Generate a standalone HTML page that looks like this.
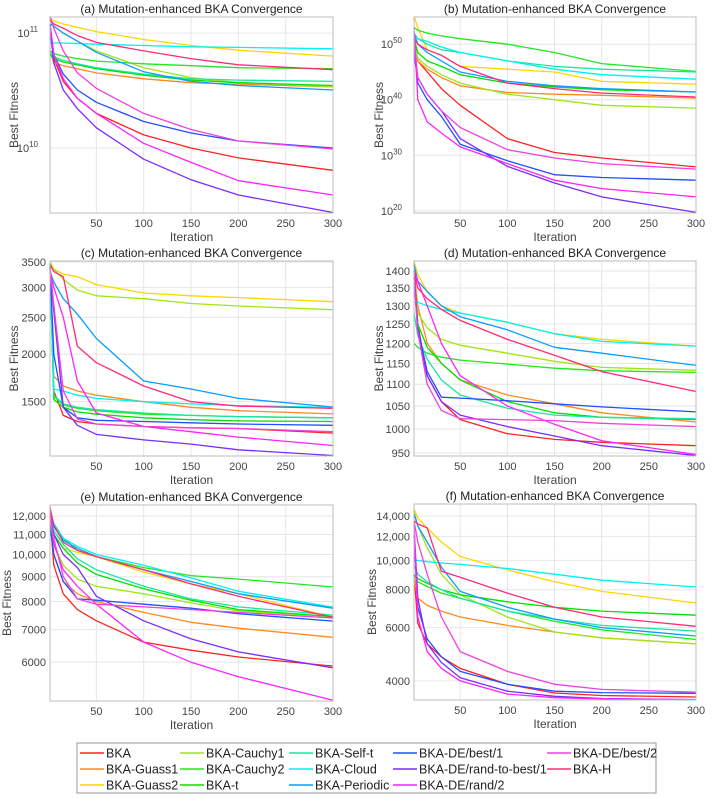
<!DOCTYPE html>
<html><head><meta charset="utf-8">
<style>
html,body{margin:0;padding:0;background:#fff;}
svg{display:block;font-family:"Liberation Sans",Arial,sans-serif;}
</style></head>
<body>
<svg id="fig" width="714" height="799" viewBox="0 0 714 799" xmlns="http://www.w3.org/2000/svg"></svg>
<script>
const iters = [1,5,15,30,50,100,150,200,300];
const names = ["BKA","BKA-Guass1","BKA-Guass2","BKA-Cauchy1","BKA-Cauchy2","BKA-t","BKA-Self-t","BKA-Cloud","BKA-Periodic","BKA-DE/best/1","BKA-DE/rand-to-best/1","BKA-DE/rand/2","BKA-DE/best/2","BKA-H"];
const colors = ["#ff2222","#ff8a1e","#ffd400","#9ee61a","#22e622","#00e000","#18e6a0","#00f0f0","#0a9cff","#2050ff","#7a2cff","#ff22ff","#f040e0","#ff2a7a"];

// panel (a)
const aBKA=[1.2e11,6e10,3.8e10,2.7e10,2.0e10,1.3e10,1.0e10,8.2e9,6.4e9];
const aGuass1=[7e10,5.5e10,5.2e10,4.9e10,4.5e10,4.0e10,3.7e10,3.6e10,3.4e10];
const aGuass2=[1.35e11,1.28e11,1.2e11,1.12e11,1.03e11,8.8e10,7.8e10,7.1e10,6.3e10];
const aCauchy1=[1.3e11,1.15e11,1.0e11,8.5e10,7.0e10,5.0e10,4.1e10,3.7e10,3.4e10];
const aCauchy2=[7e10,6.6e10,6.3e10,6.0e10,5.7e10,5.4e10,5.2e10,5.0e10,4.9e10];
const aT=[6.5e10,6.0e10,5.6e10,5.3e10,4.9e10,4.3e10,3.9e10,3.7e10,3.5e10];
const aSelfT=[6.8e10,6.2e10,5.8e10,5.4e10,5.0e10,4.4e10,4.0e10,3.9e10,3.8e10];
const aCloud=[8.2e10,8.2e10,8.2e10,8.1e10,8.0e10,7.8e10,7.6e10,7.5e10,7.3e10];
const aPeriodic=[1.2e11,1.15e11,1.0e11,8.5e10,6.8e10,4.6e10,3.8e10,3.5e10,3.2e10];
const aBest1=[1.2e11,6.5e10,4.4e10,3.2e10,2.5e10,1.7e10,1.35e10,1.15e10,1.0e10];
const aRtb1=[1.1e11,5.5e10,3.2e10,2.2e10,1.5e10,8e9,5.3e9,3.9e9,2.75e9];
const aRand2=[1.15e11,6.5e10,4.0e10,2.7e10,2.0e10,1.1e10,7.5e9,5.2e9,3.9e9];
const aBest2=[1.4e11,1.1e11,7e10,4.5e10,3.3e10,2.0e10,1.45e10,1.15e10,9.8e9];
const aH=[1.3e11,1.2e11,1.1e11,9.5e10,8.3e10,7.0e10,6.0e10,5.3e10,4.8e10];

// panel (b) - values as powers of ten (exponents)
const bBKA=[51,47,45,42,39,33,30.5,29.5,27.9];
const bGuass1=[50,47,45.5,44,42.5,41.3,41,40.8,40.3];
const bGuass2=[55,53,49,48,46,45.5,45,43.3,42.8];
const bCauchy1=[50,47.5,46,44.5,43,41,40,39,38.5];
const bCauchy2=[53,52.5,52,51.5,51,50,48.5,46.5,45.1];
const bT=[51,48.5,47,46,44.5,43,42.3,41.8,41.4];
const bSelfT=[52,51,50,49,48.5,47,46,45.5,45];
const bCloud=[52,51,50.5,49.5,48.5,47,45.5,44.5,43.7];
const bPeriodic=[52,50,48.5,47,45,43.3,42.5,42,41.4];
const bBest1=[49,43,40,37,32,29,26.5,26,25.5];
const bRtb1=[48,44,41,38,33,28,25,22.5,19.7];
const bRand2=[53,40,36,34,31.5,28.5,25.5,24,22.5];
const bBest2=[51,44,41,38,35,31,29.5,28.5,27.5];
const bH=[51,50,49,48,46,43,42,41.2,40.5];

// panel (c)
const cBKA=[3400,1600,1380,1330,1310,1290,1280,1275,1240];
const cGuass1=[3400,1750,1650,1600,1560,1500,1450,1420,1393];
const cGuass2=[3500,3350,3250,3200,3050,2900,2850,2820,2750];
const cCauchy1=[3500,3350,3150,2950,2850,2800,2720,2680,2620];
const cCauchy2=[3450,1550,1470,1440,1420,1390,1380,1370,1360];
const cT=[3450,1520,1450,1410,1390,1360,1345,1335,1330];
const cSelfT=[3450,1560,1480,1450,1430,1400,1380,1370,1360];
const cCloud=[3450,1620,1600,1560,1530,1500,1480,1465,1450];
const cPeriodic=[3300,3100,2800,2550,2200,1700,1620,1530,1452];
const cBest1=[3400,2000,1450,1360,1340,1330,1320,1310,1300];
const cRtb1=[3400,2600,1450,1300,1230,1190,1160,1120,1082];
const cRand2=[3300,3000,2500,1700,1400,1290,1250,1210,1150];
const cBest2=[3400,2700,1600,1350,1310,1290,1280,1275,1250];
const cH=[3450,3300,3200,2100,1900,1650,1500,1460,1440];

// panel (d)
const dBKA=[1420,1250,1120,1060,1020,990,978,972,965];
const dGuass1=[1400,1300,1200,1150,1110,1075,1055,1035,1015];
const dGuass2=[1430,1390,1340,1300,1280,1255,1225,1210,1193];
const dCauchy1=[1350,1280,1240,1210,1195,1175,1155,1140,1133];
const dCauchy2=[1200,1190,1175,1165,1158,1148,1138,1132,1128];
const dT=[1380,1250,1190,1150,1110,1060,1035,1025,1020];
const dSelfT=[1280,1220,1160,1110,1075,1045,1030,1025,1022];
const dCloud=[1310,1310,1300,1290,1280,1255,1225,1205,1193];
const dPeriodic=[1420,1370,1340,1300,1270,1235,1190,1175,1145];
const dBest1=[1400,1240,1130,1070,1068,1062,1055,1048,1037];
const dRtb1=[1380,1230,1120,1060,1030,1005,985,965,945];
const dRand2=[1400,1370,1300,1200,1120,1050,1010,975,947];
const dBest2=[1380,1230,1100,1040,1022,1020,1018,1012,1005];
const dH=[1400,1350,1320,1290,1260,1210,1170,1130,1083];

// panel (e)
const eBKA=[12000,9500,8300,7700,7300,6600,6350,6150,5890];
const eGuass1=[12000,10000,8800,8300,8000,7600,7250,7050,6750];
const eGuass2=[12300,11000,10300,10100,9900,9200,8700,8300,7430];
const eCauchy1=[12000,10500,9500,8900,8600,8300,7950,7650,7450];
const eCauchy2=[12300,11500,10800,10200,9900,9400,9050,8900,8570];
const eT=[12000,11000,10300,9600,9100,8500,8050,7700,7450];
const eSelfT=[12000,11200,10500,9800,9300,8600,8100,7800,7500];
const eCloud=[12300,11600,10800,10400,10000,9500,8950,8400,7790];
const ePeriodic=[12300,11400,10700,10300,9900,9300,8800,8300,7750];
const eBest1=[11500,10000,8800,8100,8050,7900,7750,7550,7290];
const eRtb1=[12000,11000,10000,9400,8200,7300,6700,6300,5840];
const eRand2=[12500,10500,9300,8600,7900,6600,6000,5600,5010];
const eBest2=[12000,10800,9000,8100,7900,7800,7700,7600,7400];
const eH=[12500,11500,10600,10200,9900,9300,8700,8200,7420];

// panel (f)
const fBKA=[9000,6200,5300,4800,4400,3900,3650,3580,3540];
const fGuass1=[8800,7500,7100,6800,6500,6100,5800,5550,5300];
const fGuass2=[14800,13800,12800,11500,10300,9300,8500,7900,7230];
const fCauchy1=[14500,13000,11000,9000,7700,6500,5800,5550,5300];
const fCauchy2=[9000,8500,8200,7800,7500,6800,6300,5900,5480];
const fT=[9000,8700,8400,8000,7700,7300,7000,6800,6590];
const fSelfT=[9600,9000,8500,8000,7500,6800,6400,6100,5840];
const fCloud=[10000,10000,9900,9800,9700,9400,9000,8600,8170];
const fPeriodic=[14300,13000,11500,9500,7900,7000,6400,6000,5630];
const fBest1=[12000,7000,5500,4800,4300,3900,3700,3660,3640];
const fRtb1=[13000,7500,5300,4600,4100,3700,3560,3500,3470];
const fRand2=[13500,6500,5000,4400,4000,3620,3520,3490,3470];
const fBest2=[13500,11500,9000,6500,5000,4300,3900,3750,3670];
const fH=[13500,13200,12800,9200,8800,7800,7000,6500,6060];

const xTicks=[50,100,150,200,250,300];
const aTicks=[1e10,1e11];
const bTicks=[20,30,40,50];
const cTicks=[1500,2000,2500,3000,3500];
const dTicks=[950,1000,1050,1100,1150,1200,1250,1300,1350,1400];
const eTicks=[6000,7000,8000,9000,10000,11000,12000];
const fTicks=[4000,6000,8000,10000,12000,14000];

const NS="http://www.w3.org/2000/svg";
const svg=document.getElementById('fig');
function mk(tag,attrs,parent){const e=document.createElementNS(NS,tag);for(const k in attrs)e.setAttribute(k,attrs[k]);(parent||svg).appendChild(e);return e;}
function fmt(v){return v>=10000?v.toLocaleString('en-US'):String(v);}

const panels=[
 {id:'a',title:'(a) Mutation-enhanced BKA Convergence',L:50,R:333,T:17,B:213,lo:Math.log10(2.72e9),hi:Math.log10(1.38e11),exp:false,
  series:[aBKA,aGuass1,aGuass2,aCauchy1,aCauchy2,aT,aSelfT,aCloud,aPeriodic,aBest1,aRtb1,aRand2,aBest2,aH],ticks:aTicks,sup:true,ylx:18},
 {id:'b',title:'(b) Mutation-enhanced BKA Convergence',L:414,R:696,T:17,B:213,lo:19.6,hi:54.9,exp:true,
  series:[bBKA,bGuass1,bGuass2,bCauchy1,bCauchy2,bT,bSelfT,bCloud,bPeriodic,bBest1,bRtb1,bRand2,bBest2,bH],ticks:bTicks,supExp:true,ylx:383},
 {id:'c',title:'(c) Mutation-enhanced BKA Convergence',L:50,R:333,T:261,B:456,lo:Math.log10(1079),hi:Math.log10(3520),exp:false,
  series:[cBKA,cGuass1,cGuass2,cCauchy1,cCauchy2,cT,cSelfT,cCloud,cPeriodic,cBest1,cRtb1,cRand2,cBest2,cH],ticks:cTicks,ylx:18},
 {id:'d',title:'(d) Mutation-enhanced BKA Convergence',L:414,R:696,T:261,B:456,lo:Math.log10(944),hi:Math.log10(1430),exp:false,
  series:[dBKA,dGuass1,dGuass2,dCauchy1,dCauchy2,dT,dSelfT,dCloud,dPeriodic,dBest1,dRtb1,dRand2,dBest2,dH],ticks:dTicks,ylx:383},
 {id:'e',title:'(e) Mutation-enhanced BKA Convergence',L:50,R:333,T:505,B:701,lo:Math.log10(4990),hi:Math.log10(12650),exp:false,
  series:[eBKA,eGuass1,eGuass2,eCauchy1,eCauchy2,eT,eSelfT,eCloud,ePeriodic,eBest1,eRtb1,eRand2,eBest2,eH],ticks:eTicks,ylx:11},
 {id:'f',title:'(f) Mutation-enhanced BKA Convergence',L:414,R:696,T:504,B:700,lo:Math.log10(3460),hi:Math.log10(15350),exp:false,
  series:[fBKA,fGuass1,fGuass2,fCauchy1,fCauchy2,fT,fSelfT,fCloud,fPeriodic,fBest1,fRtb1,fRand2,fBest2,fH],ticks:fTicks,ylx:376}
];

panels.forEach(p=>{
  const g=mk('g',{});
  
  
  const xs=v=>p.L+(v-1)/299*(p.R-p.L);
  const ys=v=>{const l=p.exp?v:Math.log10(v);return p.B-(l-p.lo)/(p.hi-p.lo)*(p.B-p.T);};
  mk('rect',{x:p.L,y:p.T,width:p.R-p.L,height:p.B-p.T,fill:'#fff'},g);
  xTicks.forEach(t=>{mk('line',{x1:xs(t),x2:xs(t),y1:p.T,y2:p.B,stroke:'#e6e6e6','stroke-width':1},g);});
  p.ticks.forEach(t=>{const y=ys(t);mk('line',{x1:p.L,x2:p.R,y1:y,y2:y,stroke:'#e6e6e6','stroke-width':1},g);});
  p.series.forEach((s,i)=>{
    const pts=s.map((v,j)=>xs(iters[j]).toFixed(1)+','+ys(v).toFixed(1)).join(' ');
    const pl=mk('polyline',{points:pts,fill:'none',stroke:colors[i],'stroke-width':1.3,'stroke-linejoin':'round'},g);
    
    
  });
  mk('rect',{x:p.L,y:p.T,width:p.R-p.L,height:p.B-p.T,fill:'none',stroke:'#bdbdbd','stroke-width':1},g);
  xTicks.forEach(t=>{
    const tx=mk('text',{x:xs(t),y:p.B+14,'font-size':11,fill:'#444','text-anchor':'middle'},g);tx.textContent=t;
    
    
  });
  const xt=mk('text',{x:(p.L+p.R)/2,y:p.B+28,'font-size':12,fill:'#444','text-anchor':'middle'},g);xt.textContent='Iteration';
  
  
  p.ticks.forEach(t=>{
    const y=ys(t);
    const tx=mk('text',{x:p.L-4,y:y+4,'font-size':11,fill:'#444','text-anchor':'end'},g);
    if(p.sup||p.supExp){
      const ex=p.supExp?t:Math.round(Math.log10(t));
      tx.setAttribute('x',p.L-12);
      tx.textContent='10';
      const sp=mk('tspan',{dy:-5,'font-size':8},tx);sp.textContent=ex;
    } else tx.textContent=fmt(t);
    
    
  });
  const cy=(p.T+p.B)/2;
  const yt=mk('text',{x:p.ylx,y:cy,'font-size':12,fill:'#444','text-anchor':'middle',transform:`rotate(-90 ${p.ylx} ${cy})`},g);yt.textContent='Best Fitness';
  
  
  const tt=mk('text',{x:(p.L+p.R)/2,y:p.T-4,'font-size':12,fill:'#222','text-anchor':'middle'},g);tt.textContent=p.title;
  
  
});

const lg=mk('g',{});


mk('rect',{x:77,y:743,width:579,height:50,fill:'#fff',stroke:'#999','stroke-width':1},lg);
const colX=[80,180,289,393,547];
const rowY=[753,769,785];
const order=[[0,0],[1,0],[2,0],[0,1],[1,1],[2,1],[0,2],[1,2],[2,2],[0,3],[1,3],[2,3],[0,4],[1,4]];
order.forEach((rc,i)=>{
  const x=colX[rc[1]];const y=rowY[rc[0]];
  const e=mk('g',{},lg);
  
  
  mk('line',{x1:x,x2:x+24,y1:y,y2:y,stroke:colors[i],'stroke-width':1.5},e);
  const t=mk('text',{x:x+26,y:y+4.5,'font-size':12.5,fill:'#222'},e);t.textContent=names[i];
});
</script>
</body></html>
